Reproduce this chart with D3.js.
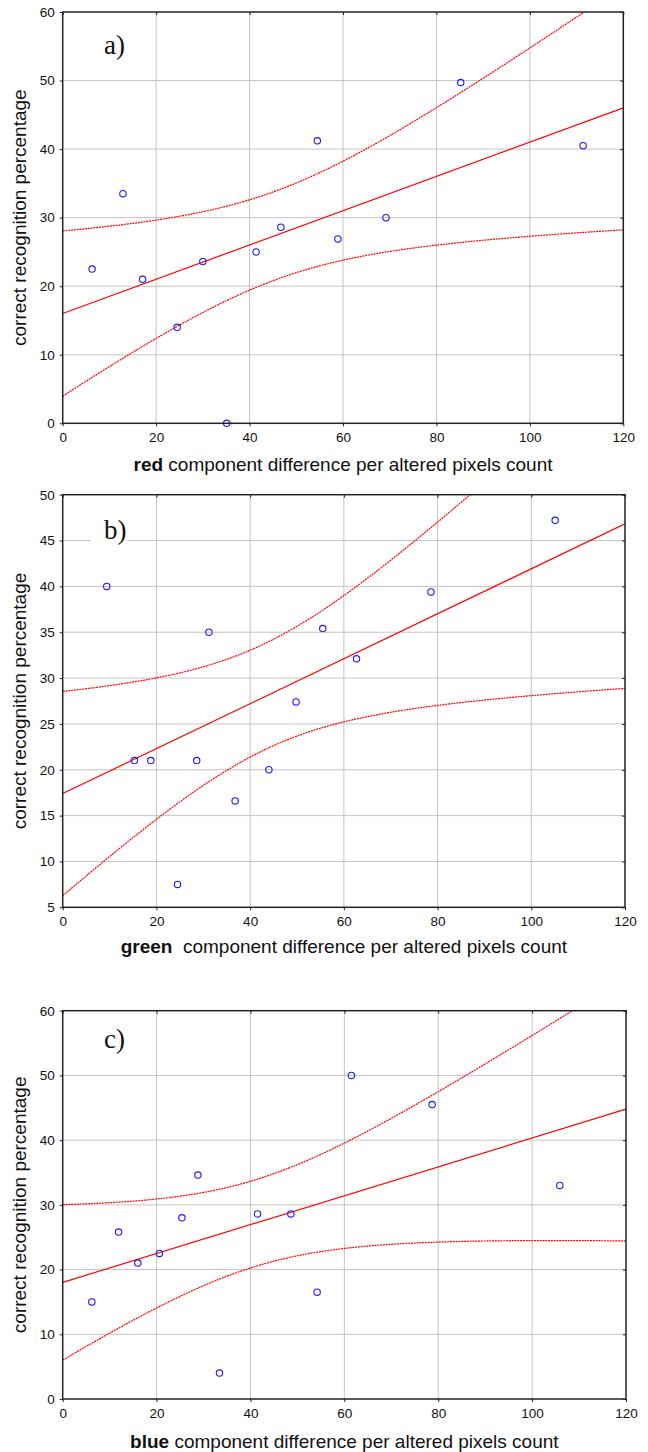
<!DOCTYPE html>
<html>
<head>
<meta charset="utf-8">
<script src="https://cdn.jsdelivr.net/npm/d3@7"></script>
<style>
  body { margin: 0; background: #fff; }
  svg { display: block; }
</style>
</head>
<body>
<div id="chart"></div>
<script>

// x axis is the same for the three plots
var xTicks = [0, 20, 40, 60, 80, 100, 120];

// a) red component
var redX = [6.3, 12.9, 17.1, 24.5, 30.0, 35.1, 41.4, 46.7, 54.5, 58.9, 69.2, 85.2, 111.4];
var redY = [22.5, 33.5, 21.0, 14.0, 23.6, 0.0, 25.0, 28.6, 41.2, 26.9, 30.0, 49.7, 40.5];
var redTicks = [0, 10, 20, 30, 40, 50, 60];

// b) green component
var greenX = [9.4, 15.3, 18.8, 24.5, 28.6, 31.2, 36.8, 44.0, 49.8, 55.5, 62.7, 78.6, 105.1];
var greenY = [40.0, 21.0, 21.0, 7.5, 21.0, 35.0, 16.6, 20.0, 27.4, 35.4, 32.1, 39.4, 47.2];
var greenTicks = [5, 10, 15, 20, 25, 30, 35, 40, 45, 50];

// c) blue component
var blueX = [6.2, 11.9, 16.0, 20.6, 25.4, 28.8, 33.4, 41.5, 48.6, 54.2, 61.5, 78.7, 105.9];
var blueY = [15.0, 25.8, 21.0, 22.5, 28.0, 34.6, 4.0, 28.6, 28.6, 16.5, 50.0, 45.5, 33.0];
var blueTicks = [0, 10, 20, 30, 40, 50, 60];

// two sided 95% student t values by degrees of freedom
var tTable = {8: 2.306, 9: 2.262, 10: 2.228, 11: 2.201, 12: 2.179, 13: 2.160, 14: 2.145, 15: 2.131};

var width = 648, height = 1452;
var left = 62.7;

var svg = d3.select("#chart")
    .append("svg")
    .attr("width", width)
    .attr("height", height);

var panels = [
    { name: "red",   label: "a)", xs: redX,   ys: redY,   ticks: redTicks,   top: 12,     bottom: 423.3, right: 623.3, labelY: 54,     titleY: 471, gap: " " },
    { name: "green", label: "b)", xs: greenX, ys: greenY, ticks: greenTicks, top: 494.7,  bottom: 907.3, right: 625,   labelY: 539.3,  titleY: 953, gap: "\u00a0 " },
    { name: "blue",  label: "c)", xs: blueX,  ys: blueY,  ticks: blueTicks,  top: 1010.7, bottom: 1399,  right: 626,   labelY: 1048.3, titleY: 1448, gap: " " }
];

// least squares fit + 95% confidence band for the mean
function fit(xs, ys) {
    var n = xs.length;
    var mx = d3.mean(xs), my = d3.mean(ys);
    var sxx = 0, sxy = 0, syy = 0;
    for (var i = 0; i < n; i++) {
        sxx += (xs[i] - mx) * (xs[i] - mx);
        sxy += (xs[i] - mx) * (ys[i] - my);
        syy += (ys[i] - my) * (ys[i] - my);
    }
    var b = sxy / sxx, a = my - b * mx;
    var s = Math.sqrt((syy - b * sxy) / (n - 2));
    var t = tTable[n - 2];
    return {
        a: a, b: b,
        band: function(x, sign) {
            return a + b * x + sign * t * s * Math.sqrt(1 / n + (x - mx) * (x - mx) / sxx);
        }
    };
}

panels.forEach(function(p, k) {

    var x = d3.scaleLinear().domain([0, 120]).range([left, p.right]);
    var y = d3.scaleLinear().domain(d3.extent(p.ticks)).range([p.bottom, p.top]);

    var g = svg.append("g").attr("class", "panel " + p.name);

    // grid
    g.selectAll(".vgrid").data(xTicks.slice(1, -1)).enter().append("line")
        .attr("x1", function(d) { return x(d); }).attr("x2", function(d) { return x(d); })
        .attr("y1", p.top).attr("y2", p.bottom)
        .style("stroke", "#c4c4c4").style("stroke-width", 1);

    g.selectAll(".hgrid").data(p.ticks.slice(1, -1)).enter().append("line")
        .attr("y1", function(d) { return y(d); }).attr("y2", function(d) { return y(d); })
        .attr("x1", left).attr("x2", p.right)
        .style("stroke", "#c4c4c4").style("stroke-width", 1);

    // panel letter with white box behind
    g.append("rect")
        .attr("x", 90).attr("y", p.labelY - 22)
        .attr("width", 37).attr("height", 30)
        .style("fill", "#fff");
    g.append("text")
        .attr("x", 104).attr("y", p.labelY)
        .style("font-family", '"Liberation Serif", "Times New Roman", serif')
        .style("font-size", "27px")
        .style("fill", "#111")
        .text(p.label);

    // regression line and confidence curves
    var f = fit(p.xs, p.ys);
    var clipId = "clip" + k;
    g.append("clipPath").attr("id", clipId)
        .append("rect")
        .attr("x", left).attr("y", p.top)
        .attr("width", p.right - left).attr("height", p.bottom - p.top);

    var xs = d3.range(0, 120.5, 0.5);
    var line = d3.line()
        .x(function(d) { return x(d[0]); })
        .y(function(d) { return y(d[1]); });

    var lines = g.append("g").attr("clip-path", "url(#" + clipId + ")");

    lines.append("path")
        .datum([[0, f.a], [120, f.a + f.b * 120]])
        .attr("d", line)
        .style("fill", "none").style("stroke", "#ff0000").style("stroke-width", 1.2);

    [1, -1].forEach(function(sign) {
        lines.append("path")
            .datum(xs.map(function(v) { return [v, f.band(v, sign)]; }))
            .attr("d", line)
            .style("fill", "none").style("stroke", "#ff0000").style("stroke-width", 1.2)
            .style("stroke-dasharray", "2,0.8");
    });

    // points
    g.selectAll("circle")
        .data(p.xs.map(function(v, i) { return [v, p.ys[i]]; }))
        .enter().append("circle")
        .attr("cx", function(d) { return x(d[0]); })
        .attr("cy", function(d) { return y(d[1]); })
        .attr("r", 3.2)
        .style("fill", "none")
        .style("stroke", "#1a1aff")
        .style("stroke-width", 1.1);

    // axes
    var ax = g.append("g")
        .attr("transform", "translate(0," + p.bottom + ")")
        .call(d3.axisBottom(x).tickValues(xTicks).tickSize(3).tickPadding(6));
    var ay = g.append("g")
        .attr("transform", "translate(" + left + ",0)")
        .call(d3.axisLeft(y).tickValues(p.ticks).tickSize(3).tickPadding(5));
    var at = g.append("g")
        .attr("transform", "translate(0," + p.top + ")")
        .call(d3.axisTop(x).tickValues(xTicks).tickSize(-3).tickFormat(""));
    var ar = g.append("g")
        .attr("transform", "translate(" + p.right + ",0)")
        .call(d3.axisRight(y).tickValues(p.ticks).tickSize(-3).tickFormat(""));

    [ax, ay, at, ar].forEach(function(a) {
        a.select(".domain").remove();
        a.selectAll("line").style("stroke", "#222");
        a.selectAll("text")
            .style("font-family", '"Liberation Sans", Arial, sans-serif')
            .style("font-size", "13.5px")
            .style("fill", "#111");
    });

    // frame
    g.append("rect")
        .attr("x", left).attr("y", p.top)
        .attr("width", p.right - left).attr("height", p.bottom - p.top)
        .style("fill", "none").style("stroke", "#222").style("stroke-width", 1.5);

    // y label
    g.append("text")
        .attr("transform", "translate(26," + ((p.top + p.bottom) / 2) + ") rotate(-90)")
        .style("text-anchor", "middle")
        .style("font-family", '"Liberation Sans", Arial, sans-serif')
        .style("font-size", "19px")
        .style("fill", "#111")
        .text("correct recognition percentage");

    // x label
    var xt = g.append("text")
        .attr("x", (left + p.right) / 2)
        .attr("y", p.titleY)
        .style("text-anchor", "middle")
        .style("font-family", '"Liberation Sans", Arial, sans-serif')
        .style("font-size", "19px")
        .style("fill", "#111");
    xt.append("tspan").style("font-weight", "700").text(p.name);
    xt.append("tspan").text(p.gap + "component difference per altered pixels count");
});

</script>
</body>
</html>
